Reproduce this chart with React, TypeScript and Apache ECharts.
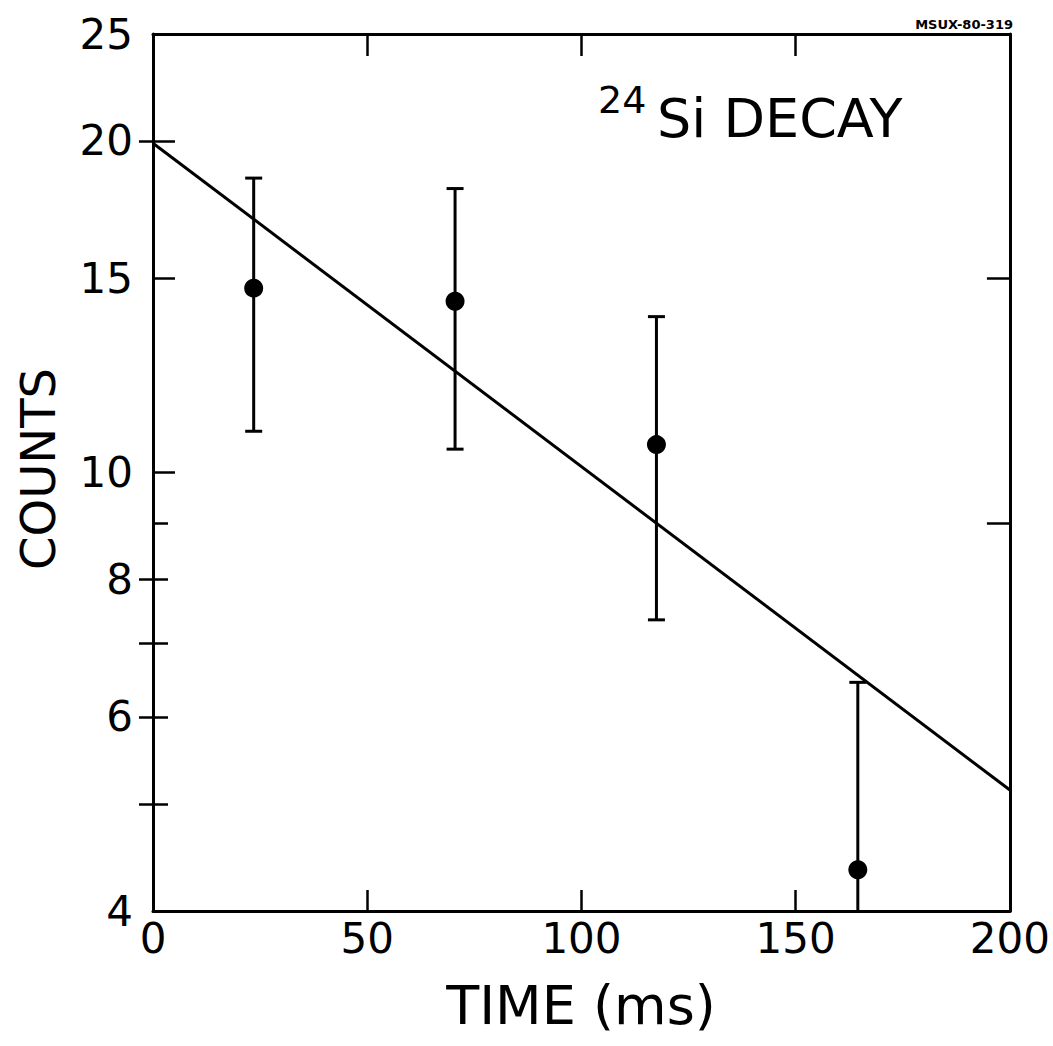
import React, { useEffect, useRef } from "react";
import * as echarts from "echarts";

// ---- data ----
const timeMs = [23.5, 70.5, 117.5, 164.5];
const counts = [14.7, 14.3, 10.6, 4.36];
const countsHigh = [18.5, 18.1, 13.85, 6.45];
const countsLow = [10.9, 10.5, 7.35, 2.27];
const fitLine = [
  [0, 19.9],
  [200, 5.15],
];
const xTicks = [0, 50, 100, 150, 200];
const yLabelValues = [4, 6, 8, 10, 15, 20, 25];
const yLeftLongTicks = [10, 15, 20];
const yLeftShortTicks = [5, 6, 7, 8, 9];
const yRightLongTicks = [9, 15];
const yRightShortTicks = [5, 6, 7, 8, 20];
const X_MIN = 0;
const X_MAX = 200;
const Y_MIN = 4;
const Y_MAX = 25;

const FONT = "DejaVu Sans";
const INK = "#000";

function yAxisBase(extra: any) {
  return {
    type: "log",
    logBase: 10,
    min: Y_MIN,
    max: Y_MAX,
    splitLine: { show: false },
    axisLine: { show: false, lineStyle: { color: INK, width: 3 } },
    axisLabel: { show: false },
    axisTick: { show: false },
    ...extra,
  };
}

export default function App() {
  const ref = useRef<HTMLDivElement>(null);
  useEffect(() => {
    if (!ref.current) return;
    const chart = echarts.init(ref.current, undefined, { renderer: "svg" });
    const errData = timeMs.map((t, i) => [t, countsLow[i], countsHigh[i]]);
    const option: any = {
      animation: false,
      backgroundColor: "#fff",
      textStyle: { fontFamily: FONT, color: INK },
      grid: { left: 153, right: 38, top: 34, bottom: 135, containLabel: false },
      xAxis: [
        {
          type: "value",
          position: "bottom",
          min: X_MIN,
          max: X_MAX,
          interval: 50,
          splitLine: { show: false },
          axisLine: { show: true, onZero: false, lineStyle: { color: INK, width: 3 } },
          axisTick: {
            show: true,
            inside: true,
            length: 21,
            customValues: xTicks,
            lineStyle: { color: INK, width: 2.5 },
          },
          axisLabel: {
            show: true,
            customValues: xTicks,
            fontSize: 42,
            fontFamily: FONT,
            color: INK,
            margin: 6,
          },
        },
        {
          type: "value",
          position: "top",
          min: X_MIN,
          max: X_MAX,
          interval: 50,
          splitLine: { show: false },
          axisLine: { show: true, onZero: false, lineStyle: { color: INK, width: 3 } },
          axisTick: {
            show: true,
            inside: true,
            length: 22,
            customValues: [50, 100, 150],
            lineStyle: { color: INK, width: 2.5 },
          },
          axisLabel: { show: false },
        },
      ],
      yAxis: [
        yAxisBase({
          position: "left",
          axisLine: { show: true, onZero: false, lineStyle: { color: INK, width: 3 } },
          axisTick: {
            show: true,
            inside: true,
            length: 22,
            customValues: yLeftLongTicks,
            lineStyle: { color: INK, width: 2.5 },
          },
          axisLabel: {
            show: true,
            customValues: yLabelValues,
            fontSize: 42,
            fontFamily: FONT,
            color: INK,
            margin: 20,
          },
        }),
        yAxisBase({
          position: "left",
          axisTick: {
            show: true,
            inside: true,
            length: 15,
            customValues: yLeftShortTicks,
            lineStyle: { color: INK, width: 2.5 },
          },
        }),
        yAxisBase({
          position: "right",
          axisLine: { show: true, onZero: false, lineStyle: { color: INK, width: 3 } },
          axisTick: {
            show: true,
            inside: true,
            length: 23,
            customValues: yRightLongTicks,
            lineStyle: { color: INK, width: 2.5 },
          },
        }),
        yAxisBase({
          position: "right",
          axisTick: {
            show: true,
            inside: true,
            length: 14,
            customValues: yRightShortTicks,
            lineStyle: { color: INK, width: 2.5 },
          },
        }),
      ],
      series: [
        {
          type: "line",
          name: "fit",
          data: fitLine,
          xAxisIndex: 0,
          yAxisIndex: 0,
          showSymbol: false,
          symbol: "none",
          lineStyle: { color: INK, width: 3 },
          z: 2,
        },
        {
          type: "custom",
          name: "errors",
          xAxisIndex: 0,
          yAxisIndex: 0,
          data: errData,
          encode: { x: 0, y: [1, 2] },
          z: 3,
          renderItem: (params: any, api: any) => {
            const x = api.value(0);
            const lo = api.value(1);
            const hi = api.value(2);
            const pHi = api.coord([x, hi]);
            const pLo = api.coord([x, Math.max(lo, Y_MIN)]);
            const cap = 8.5;
            const style = { stroke: INK, lineWidth: 3, fill: "none" };
            const children: any[] = [
              { type: "line", shape: { x1: pHi[0], y1: pHi[1], x2: pLo[0], y2: pLo[1] }, style },
              { type: "line", shape: { x1: pHi[0] - cap, y1: pHi[1], x2: pHi[0] + cap, y2: pHi[1] }, style },
            ];
            if (lo >= Y_MIN) {
              children.push({
                type: "line",
                shape: { x1: pLo[0] - cap, y1: pLo[1], x2: pLo[0] + cap, y2: pLo[1] },
                style,
              });
            }
            return { type: "group", children };
          },
        },
        {
          type: "scatter",
          name: "counts",
          xAxisIndex: 0,
          yAxisIndex: 0,
          data: timeMs.map((t, i) => [t, counts[i]]),
          symbol: "circle",
          symbolSize: 19,
          itemStyle: { color: INK, opacity: 1 },
          z: 4,
        },
      ],
      graphic: [
        {
          type: "text",
          x: 38,
          y: 469,
          rotation: Math.PI / 2,
          style: { text: "COUNTS", fontSize: 48, fontFamily: FONT, fill: INK, align: "center", verticalAlign: "middle" },
        },
        {
          type: "text",
          x: 581,
          y: 1005,
          style: { text: "TIME (ms)", fontSize: 54, fontFamily: FONT, fill: INK, align: "center", verticalAlign: "middle" },
        },
        {
          type: "text",
          x: 598,
          y: 100,
          style: { text: "24", fontSize: 38, fontFamily: FONT, fill: INK, align: "left", verticalAlign: "middle" },
        },
        {
          type: "text",
          x: 657,
          y: 118,
          style: { text: "Si DECAY", fontSize: 54, fontFamily: FONT, fill: INK, align: "left", verticalAlign: "middle" },
        },
        {
          type: "text",
          x: 1013,
          y: 24,
          style: {
            text: "MSUX-80-319",
            fontSize: 13,
            fontWeight: "bold",
            fontFamily: FONT,
            fill: INK,
            align: "right",
            verticalAlign: "middle",
          },
        },
      ],
    };
    chart.setOption(option);
    return () => chart.dispose();
  }, []);
  return (
    <div
      ref={ref}
      style={{ position: "fixed", left: 0, top: 0, width: 1053, height: 1046, background: "#fff" }}
    />
  );
}
